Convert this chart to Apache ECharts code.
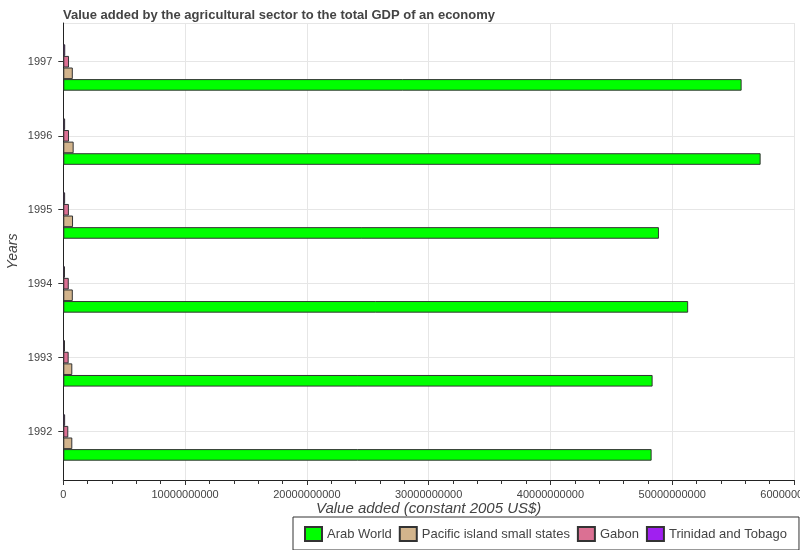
<!DOCTYPE html>
<html><head><meta charset="utf-8">
<script src="https://cdn.jsdelivr.net/npm/echarts@6/dist/echarts.min.js"></script>
<style>html,body{margin:0;padding:0;background:#fff}#c{width:800px;height:550px}</style>
</head><body><div id="c"></div>
<script>
const years = [1992, 1993, 1994, 1995, 1996, 1997];
const arabWorld = [48310000000, 48390000000, 51310000000, 48910000000, 57260000000, 55700000000];
const pacificIslands = [740000000, 740000000, 780000000, 800000000, 850000000, 780000000];
const gabon = [410000000, 440000000, 450000000, 460000000, 470000000, 470000000];
const trinidad = [150000000, 140000000, 140000000, 150000000, 150000000, 160000000];
const xTicks = [0, 10000000000, 20000000000, 30000000000, 40000000000, 50000000000, 60000000000];

const DAY = 864e5;
const yearTs = years.map(y => Date.UTC(y, 0, 1));
const pairs = arr => arr.map((v, i) => [v, yearTs[i]]);
const isYearStart = v => { const d = new Date(v); return d.getUTCMonth() === 0 && d.getUTCDate() === 1 && d.getUTCHours() === 0; };

const border = {borderColor: '#333', borderWidth: 1};
const BW = 11.6;
const font = 'Liberation Sans, Arial, sans-serif';

// plot layout
const GRID_TOP = 23, GRID_BOTTOM = 70, H = 550;
const axisLen = H - GRID_TOP - GRID_BOTTOM;
// desired visible extent of the year axis
const wantMin = yearTs[0] - 238.5 * DAY;
const wantMax = yearTs[yearTs.length - 1] + 191.1 * DAY;
// ECharts widens a bar base axis so edge bars fit; pre-shrink to compensate
const groupPx = 5 * BW;
const wantRange = wantMax - wantMin;
const setRange = wantRange * (1 - groupPx / axisLen);
const shrink = (wantRange - setRange) / 2;

const chart = echarts.init(document.getElementById('c'), null, {renderer: 'canvas'});
chart.setOption({
  useUTC: true,
  animation: false,
  backgroundColor: '#fff',
  textStyle: {fontFamily: font},
  title: {
    text: 'Value added by the agricultural sector to the total GDP of an economy',
    left: 58, top: 4,
    textStyle: {fontSize: 13, fontWeight: 'bold', color: '#444', fontFamily: font}
  },
  legend: {
    data: ['Arab World', 'Pacific island small states', 'Gabon', 'Trinidad and Tobago'],
    left: 293, top: 517,
    padding: [9, 12, 8, 11],
    itemWidth: 17, itemHeight: 14, itemGap: 7,
    borderColor: '#333', borderWidth: 1,
    icon: 'rect',
    textStyle: {fontSize: 13, color: '#444', fontFamily: font}
  },
  grid: {left: 63.3, right: 6, top: GRID_TOP, bottom: GRID_BOTTOM, containLabel: false, outerBoundsMode: 'none'},
  xAxis: {
    type: 'value',
    min: xTicks[0], max: xTicks[xTicks.length - 1], interval: xTicks[1] - xTicks[0],
    name: 'Value added (constant 2005 US$)',
    nameLocation: 'middle', nameGap: 21, nameMoveOverlap: false,
    nameTextStyle: {fontSize: 15, fontStyle: 'italic', color: '#444', fontFamily: font},
    axisLine: {show: true, onZero: false, lineStyle: {color: '#222', width: 1}},
    axisTick: {show: true, length: 5, lineStyle: {color: '#333'}},
    minorTick: {show: true, splitNumber: 5, length: 4, lineStyle: {color: '#333'}},
    axisLabel: {fontSize: 11, color: '#444', margin: 9, formatter: v => String(v), fontFamily: font,
      hideOverlap: false},
    splitLine: {show: true, lineStyle: {color: '#e6e6e6'}}
  },
  yAxis: {
    type: 'time',
    min: wantMin + shrink,
    max: wantMax - shrink,
    minInterval: 365 * DAY, maxInterval: 366 * DAY,
    name: 'Years',
    nameLocation: 'middle', nameGap: 43, nameMoveOverlap: false,
    nameTextStyle: {fontSize: 14, fontStyle: 'italic', color: '#444', fontFamily: font},
    axisLine: {show: true, lineStyle: {color: '#222', width: 1}},
    axisTick: {show: true, length: 5, lineStyle: {color: '#333'}},
    axisLabel: {fontSize: 11, color: '#444', margin: 11,
      formatter: v => isYearStart(v) ? String(new Date(v).getUTCFullYear()) : '', fontFamily: font},
    splitLine: {show: true, lineStyle: {color: '#e6e6e6'}}
  },
  series: [
    {name: '', type: 'bar', data: [], barWidth: BW, barGap: '0%'},
    {name: 'Trinidad and Tobago', type: 'bar', data: pairs(trinidad), barWidth: BW, barGap: '0%',
      itemStyle: Object.assign({color: '#A020F0'}, border)},
    {name: 'Gabon', type: 'bar', data: pairs(gabon), barWidth: BW, barGap: '0%',
      itemStyle: Object.assign({color: '#DB7093'}, border)},
    {name: 'Pacific island small states', type: 'bar', data: pairs(pacificIslands), barWidth: BW, barGap: '0%',
      itemStyle: Object.assign({color: '#D2B48C'}, border)},
    {name: 'Arab World', type: 'bar', data: pairs(arabWorld), barWidth: BW, barGap: '0%',
      itemStyle: Object.assign({color: '#00FF00'}, border)}
  ]
});
</script>
</body></html>
